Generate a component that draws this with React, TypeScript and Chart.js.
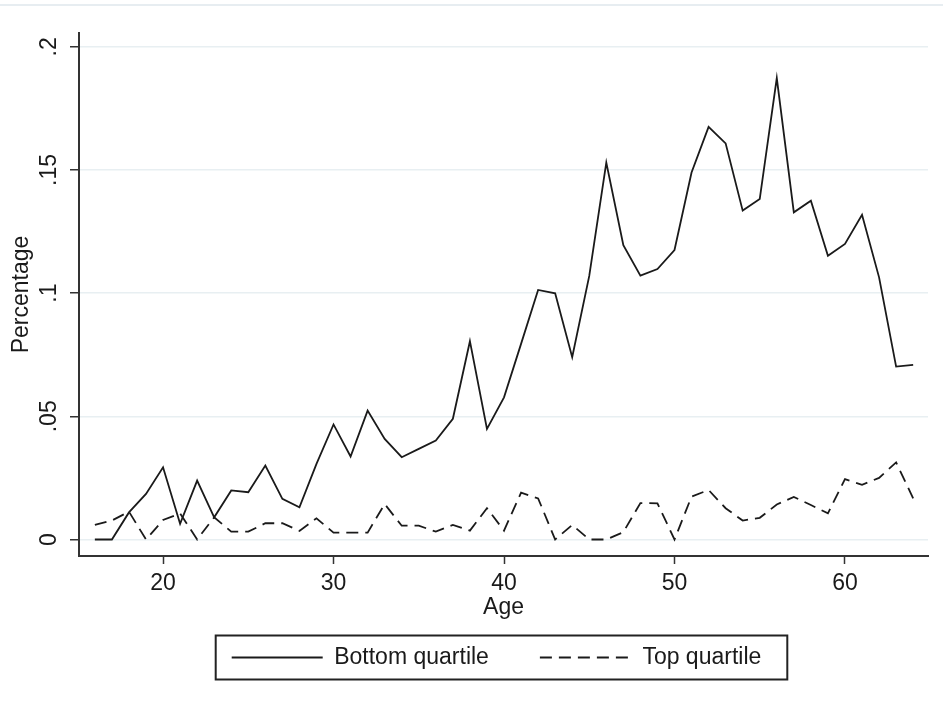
import React, { useEffect, useRef } from "react";
import { Chart, registerables } from "chart.js";

Chart.register(...registerables);

const AGES = [16, 17, 18, 19, 20, 21, 22, 23, 24, 25, 26, 27, 28, 29, 30, 31, 32, 33, 34, 35, 36, 37, 38, 39, 40,
  41, 42, 43, 44, 45, 46, 47, 48, 49, 50, 51, 52, 53, 54, 55, 56, 57, 58, 59, 60, 61, 62, 63, 64];

const BOTTOM_QUARTILE = [0, 0, 0.011, 0.0185, 0.0293, 0.0064, 0.0239, 0.009, 0.0199, 0.0192, 0.03, 0.0165, 0.0131,
  0.0307, 0.0467, 0.0337, 0.0523, 0.0408, 0.0334, 0.0368, 0.0402, 0.049, 0.0805, 0.0449, 0.0577, 0.0794, 0.1013,
  0.0999, 0.074, 0.107, 0.153, 0.1195, 0.1071, 0.1098, 0.1175, 0.149, 0.1675, 0.1608, 0.1335, 0.1382, 0.1873,
  0.1328, 0.1375, 0.1152, 0.12, 0.1318, 0.1064, 0.0702, 0.0709];

const TOP_QUARTILE = [0.0059, 0.0077, 0.0113, 0, 0.0079, 0.0106, 0, 0.009, 0.0032, 0.0032, 0.0066, 0.0066, 0.0035,
  0.0086, 0.0028, 0.0028, 0.0028, 0.0144, 0.0056, 0.0056, 0.0032, 0.0059, 0.0036, 0.0127, 0.0036, 0.019, 0.0167,
  0, 0.0059, 0, 0, 0.003, 0.0148, 0.0147, 0, 0.0174, 0.0201, 0.0127, 0.0077, 0.0088, 0.0142, 0.0173, 0.014,
  0.0106, 0.0245, 0.0222, 0.025, 0.0313, 0.0167];

const X_TICKS = [20, 30, 40, 50, 60];
const Y_TICKS = [0, 0.05, 0.1, 0.15, 0.2];
const Y_TICK_LABELS = ["0", ".05", ".1", ".15", ".2"];
const SERIES_NAMES = ["Bottom quartile", "Top quartile"];
const X_TITLE = "Age";
const Y_TITLE = "Percentage";

const FONT = { family: "'Liberation Sans', Arial, sans-serif", size: 23, lineHeight: 1.2 };
const INK = "#1a1a1a";
const DASH = [12, 7];

const framePlugin = {
  id: "frame",
  afterLayout(chart: any) {
    const lg = chart.legend;
    if (lg) {
      lg.left -= 7;
      lg.right -= 7;
    }
  },
  beforeDraw(chart: any) {
    const ctx = chart.ctx;
    ctx.save();
    ctx.strokeStyle = "#e7edf1";
    ctx.lineWidth = 2;
    ctx.beginPath();
    ctx.moveTo(0, 5);
    ctx.lineTo(chart.width, 5);
    ctx.stroke();
    ctx.restore();
  },
  afterDraw(chart: any) {
    const hb = chart.legend && chart.legend.legendHitBoxes;
    if (!hb || !hb.length) return;
    const first = hb[0];
    const last = hb[hb.length - 1];
    const cy = first.top + first.height / 2;
    const l = first.left - 16;
    const r = last.left + last.width + 26;
    const ctx = chart.ctx;
    ctx.save();
    ctx.strokeStyle = "#222";
    ctx.lineWidth = 2;
    ctx.strokeRect(l, cy - 22, r - l, 44);
    ctx.restore();
  },
};

export default function App() {
  const ref = useRef<HTMLCanvasElement | null>(null);

  useEffect(() => {
    if (!ref.current) return;
    const chart = new Chart(ref.current, {
      type: "line",
      data: {
        datasets: [
          {
            label: SERIES_NAMES[0],
            data: AGES.map((a, i) => ({ x: a, y: BOTTOM_QUARTILE[i] })),
            borderColor: INK,
            backgroundColor: "transparent",
            borderWidth: 1.8,
            pointRadius: 0,
            tension: 0,
            fill: false,
          },
          {
            label: SERIES_NAMES[1],
            data: AGES.map((a, i) => ({ x: a, y: TOP_QUARTILE[i] })),
            borderColor: INK,
            backgroundColor: "transparent",
            borderWidth: 1.8,
            borderDash: DASH,
            pointRadius: 0,
            tension: 0,
            fill: false,
          },
        ],
      },
      options: {
        responsive: false,
        animation: false,
        devicePixelRatio: 1,
        layout: { padding: { left: 0, top: 33, right: 15, bottom: 29 } },
        plugins: {
          title: { display: false },
          tooltip: { enabled: false },
          legend: {
            display: true,
            position: "bottom",
            fullSize: false,
            labels: {
              usePointStyle: true,
              pointStyle: "line",
              pointStyleWidth: 91,
              padding: 51,
              color: INK,
              font: FONT,
              generateLabels: (c: any) =>
                Chart.defaults.plugins.legend.labels.generateLabels(c).map((item: any) => {
                  const ds: any = c.data.datasets[item.datasetIndex];
                  return {
                    ...item,
                    lineDash: ds.borderDash || [],
                    lineWidth: 1.8,
                    strokeStyle: INK,
                    fillStyle: "transparent",
                  };
                }),
            },
          },
        },
        scales: {
          x: {
            type: "linear",
            min: 15.07,
            max: 64.87,
            afterBuildTicks: (s: any) => {
              s.ticks = X_TICKS.map((v) => ({ value: v }));
            },
            afterFit: (s: any) => {
              s.height = 39;
            },
            grid: {
              display: true,
              drawOnChartArea: false,
              drawTicks: true,
              tickLength: 8,
              tickColor: "#333",
              tickWidth: 1.5,
            },
            border: { display: true, color: "#333", width: 2 },
            ticks: {
              autoSkip: false,
              maxRotation: 0,
              padding: 6,
              color: INK,
              font: FONT,
              callback: (v: any) => String(v),
            },
            title: {
              display: true,
              text: X_TITLE,
              color: INK,
              font: FONT,
              padding: { top: 0, bottom: -26 },
            },
          },
          y: {
            type: "linear",
            min: -0.0067,
            max: 0.2056,
            afterBuildTicks: (s: any) => {
              s.ticks = Y_TICKS.map((v) => ({ value: v }));
            },
            afterFit: (s: any) => {
              s.width = 79;
            },
            grid: {
              display: true,
              drawOnChartArea: true,
              color: "#e8eff2",
              lineWidth: 1.5,
              drawTicks: true,
              tickLength: 9,
              tickColor: "#333",
              tickWidth: 1.5,
            },
            border: { display: true, color: "#333", width: 2 },
            ticks: {
              autoSkip: false,
              minRotation: 90,
              maxRotation: 90,
              crossAlign: "center",
              padding: 4,
              color: INK,
              font: FONT,
              callback: (_v: any, i: number) => Y_TICK_LABELS[i],
            },
            title: {
              display: true,
              text: Y_TITLE,
              color: INK,
              font: FONT,
              padding: { top: 8, bottom: 0 },
            },
          },
        },
      },
      plugins: [framePlugin],
    } as any);
    return () => chart.destroy();
  }, []);

  return (
    <div style={{ position: "fixed", left: 0, top: 0, width: 943, height: 708, background: "#fff" }}>
      <canvas ref={ref} width={943} height={708} style={{ display: "block", width: 943, height: 708 }} />
    </div>
  );
}
